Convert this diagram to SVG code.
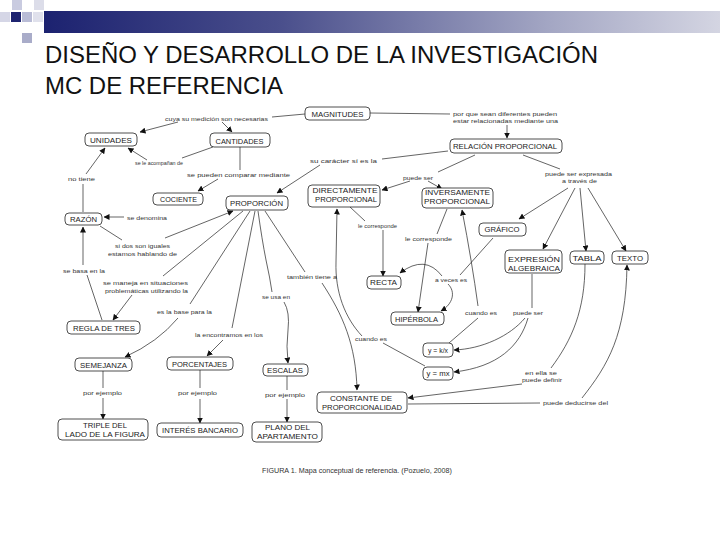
<svg xmlns="http://www.w3.org/2000/svg" width="720" height="540" viewBox="0 0 720 540">
<defs>
<linearGradient id="bar" x1="0" y1="0" x2="1" y2="0">
<stop offset="0" stop-color="#1c2270"/>
<stop offset="0.35" stop-color="#4a4f8c"/>
<stop offset="0.75" stop-color="#a4a7c4"/>
<stop offset="1" stop-color="#d4d5e2"/>
</linearGradient>
<marker id="ah" markerUnits="userSpaceOnUse" markerWidth="6" markerHeight="6" refX="5.5" refY="3" orient="auto">
<path d="M0,0 L6,3 L0,6 z" fill="#111"/>
</marker>
<style>
.n rect{fill:#fff;stroke:#222;stroke-width:0.8}
.n text{font-family:"Liberation Sans",Arial,sans-serif;font-size:7px;fill:#222;text-anchor:middle}
.lb text{font-family:"Liberation Sans",Arial,sans-serif;font-size:6.2px;fill:#333}
.c path{fill:none;stroke:#222;stroke-width:0.7}
.c .a{marker-end:url(#ah)}
.title{font-family:"Liberation Sans",Arial,sans-serif;font-size:23.5px;fill:#111}
</style>
</defs>
<rect width="720" height="540" fill="#fff"/>
<g id="decor">
<rect x="12" y="0" width="10" height="10" fill="#c9cbe0"/>
<rect x="34" y="0" width="10" height="10" fill="#dcdde9"/>
<rect x="0" y="12" width="10" height="10" fill="#d5d6e6"/>
<rect x="11" y="12" width="10" height="10" fill="#1e2470"/>
<rect x="22" y="12" width="10" height="10" fill="#b9bcd6"/>
<rect x="33" y="12" width="10" height="10" fill="#e0e1ec"/>
<rect x="22" y="33" width="10" height="10" fill="#a9acc9"/>
<rect x="44" y="11" width="676" height="22" fill="url(#bar)"/>
</g>
<text class="title" x="45" y="63" textLength="553" lengthAdjust="spacingAndGlyphs">DISEÑO Y DESARROLLO DE LA INVESTIGACIÓN</text>
<text class="title" x="45" y="94" textLength="238" lengthAdjust="spacingAndGlyphs">MC DE REFERENCIA</text>

<g id="connectors" class="c">
<path d="M272,117 L305,114"/>
<path class="a" d="M178,122 L140,132"/>
<path class="a" d="M222,122 L232,132"/>
<path d="M370,113 L450,114"/>
<path class="a" d="M507,125 L507,138"/>
<path d="M448,151 L382,159"/>
<path class="a" d="M320,165 L277,193"/>
<path d="M213,147 L182,158"/>
<path class="a" d="M147,160 L128,148"/>
<path d="M240,147 L240,170"/>
<path class="a" d="M218,179 L198,191"/>
<path d="M83,212 L83,184"/>
<path class="a" d="M86,174 L105,148"/>
<path class="a" d="M124,217 L104,217"/>
<path d="M100,226 L122,240"/>
<path class="a" d="M165,238 L233,211"/>
<path class="a" d="M83,265 L83,227"/>
<path d="M87,275 L102,320"/>
<path d="M243,211 L163,276"/>
<path class="a" d="M132,295 L113,320"/>
<path d="M250,211 L190,304"/>
<path class="a" d="M178,318 Q158,342 125,357"/>
<path d="M255,211 L232,328"/>
<path class="a" d="M223,340 L207,356"/>
<path d="M258,211 Q262,240 266,260 Q270,278 272,292"/>
<path class="a" d="M284,302 Q290,312 288,330 Q286,346 288,363"/>
<path d="M265,211 L305,272"/>
<path class="a" d="M322,283 C343,315 356,345 357,390"/>
<path class="a" d="M362,336 C345,318 335,292 336,262 L337,209"/>
<path d="M383,343 L425,366"/>
<path d="M475,155 L438,172"/>
<path class="a" d="M410,181 L382,190"/>
<path class="a" d="M428,181 L442,189"/>
<path d="M350,207 L365,221"/>
<path class="a" d="M383,230 L383,276"/>
<path d="M447,209 L437,234"/>
<path class="a" d="M428,243 L418,312"/>
<path class="a" d="M478,306 Q472,262 462,210"/>
<path d="M478,318 L449,343"/>
<path d="M493,238 L460,275"/>
<path class="a" d="M442,276 Q425,254 400,273"/>
<path class="a" d="M448,284 C456,292 453,304 441,311"/>
<path class="a" d="M568,188 L519,219"/>
<path class="a" d="M575,188 L543,249"/>
<path class="a" d="M580,188 L586,251"/>
<path class="a" d="M588,188 L626,251"/>
<path d="M523,155 L560,169"/>
<path d="M532,274 L532,308"/>
<path class="a" d="M525,318 C510,336 482,349 454,350"/>
<path class="a" d="M528,318 C520,346 498,367 454,372"/>
<path d="M585,264 C585,310 572,340 551,368"/>
<path class="a" d="M522,384 L408,398"/>
<path d="M408,404 L540,403"/>
<path class="a" d="M582,398 C608,365 626,335 627,265"/>
<path d="M103,371 L103,388"/>
<path class="a" d="M103,398 L103,419"/>
<path d="M200,370 L200,388"/>
<path class="a" d="M200,399 L200,423"/>
<path d="M287,376 L287,390"/>
<path class="a" d="M287,399 L287,422"/>
</g>

<g id="n-magnitudes" class="n"><rect x="305" y="107" width="65" height="13" rx="4"/><text x="337.5" y="116.5" textLength="52" lengthAdjust="spacingAndGlyphs">MAGNITUDES</text></g>
<g id="n-relacion" class="n"><rect x="450" y="139" width="112" height="14" rx="4"/><text x="505" y="149" textLength="104" lengthAdjust="spacingAndGlyphs">RELACIÓN PROPORCIONAL</text></g>
<g id="n-unidades" class="n"><rect x="85" y="133" width="52" height="13" rx="4"/><text x="111" y="142.5" textLength="42" lengthAdjust="spacingAndGlyphs">UNIDADES</text></g>
<g id="n-cantidades" class="n"><rect x="210" y="133" width="60" height="14" rx="4"/><text x="239.5" y="143.5" textLength="48" lengthAdjust="spacingAndGlyphs">CANTIDADES</text></g>
<g id="n-cociente" class="n"><rect x="153" y="193" width="50" height="12" rx="4"/><text x="178.5" y="202" textLength="37" lengthAdjust="spacingAndGlyphs">COCIENTE</text></g>
<g id="n-proporcion" class="n"><rect x="226" y="196" width="62" height="14" rx="4"/><text x="256.5" y="206" textLength="53" lengthAdjust="spacingAndGlyphs">PROPORCIÓN</text></g>
<g id="n-razon" class="n"><rect x="65" y="213" width="37" height="12" rx="4"/><text x="83.5" y="222" textLength="27" lengthAdjust="spacingAndGlyphs">RAZÓN</text></g>
<g id="n-directamente" class="n"><rect x="308" y="185" width="72" height="22" rx="4"/><text x="345" y="192.5" textLength="65" lengthAdjust="spacingAndGlyphs">DIRECTAMENTE</text><text x="346" y="201.5" textLength="62" lengthAdjust="spacingAndGlyphs">PROPORCIONAL</text></g>
<g id="n-inversamente" class="n"><rect x="422" y="188" width="71" height="20" rx="4"/><text x="457.5" y="195" textLength="65" lengthAdjust="spacingAndGlyphs">INVERSAMENTE</text><text x="457" y="204" textLength="66" lengthAdjust="spacingAndGlyphs">PROPORCIONAL</text></g>
<g id="n-grafico" class="n"><rect x="479" y="223" width="47" height="13" rx="4"/><text x="502" y="232.3" textLength="35" lengthAdjust="spacingAndGlyphs">GRÁFICO</text></g>
<g id="n-expresion" class="n"><rect x="505" y="250" width="57" height="23" rx="4"/><text x="534" y="261.5" textLength="52" lengthAdjust="spacingAndGlyphs">EXPRESIÓN</text><text x="534" y="270.5" textLength="52" lengthAdjust="spacingAndGlyphs">ALGEBRAICA</text></g>
<g id="n-tabla" class="n"><rect x="570" y="251" width="34" height="13" rx="4"/><text x="587" y="260.5" textLength="29" lengthAdjust="spacingAndGlyphs">TABLA</text></g>
<g id="n-texto" class="n"><rect x="612" y="251" width="36" height="13" rx="4"/><text x="630" y="260.5" textLength="26" lengthAdjust="spacingAndGlyphs">TEXTO</text></g>
<g id="n-recta" class="n"><rect x="367" y="276" width="34" height="13" rx="4"/><text x="383.5" y="285.3" textLength="27" lengthAdjust="spacingAndGlyphs">RECTA</text></g>
<g id="n-hiperbola" class="n"><rect x="391" y="312" width="53" height="13" rx="4"/><text x="416.5" y="321.5" textLength="43" lengthAdjust="spacingAndGlyphs">HIPÉRBOLA</text></g>
<g id="n-regla" class="n"><rect x="67" y="321" width="73" height="13" rx="4"/><text x="104" y="330.5" textLength="62" lengthAdjust="spacingAndGlyphs">REGLA DE TRES</text></g>
<g id="n-semejanza" class="n"><rect x="75" y="358" width="57" height="13" rx="4"/><text x="103.5" y="367.5" textLength="47" lengthAdjust="spacingAndGlyphs">SEMEJANZA</text></g>
<g id="n-porcentajes" class="n"><rect x="167" y="357" width="66" height="13" rx="4"/><text x="199.5" y="366.5" textLength="55" lengthAdjust="spacingAndGlyphs">PORCENTAJES</text></g>
<g id="n-escalas" class="n"><rect x="263" y="364" width="45" height="12" rx="4"/><text x="285" y="372.5" textLength="36" lengthAdjust="spacingAndGlyphs">ESCALAS</text></g>
<g id="n-ykx" class="n"><rect x="423" y="343" width="30" height="14" rx="4"/><text x="438" y="353" textLength="20" lengthAdjust="spacingAndGlyphs">y = k/x</text></g>
<g id="n-ymx" class="n"><rect x="423" y="367" width="30" height="13" rx="4"/><text x="438" y="376" textLength="23" lengthAdjust="spacingAndGlyphs">y = mx</text></g>
<g id="n-constante" class="n"><rect x="317" y="392" width="90" height="21" rx="4"/><text x="361" y="400.5" textLength="62" lengthAdjust="spacingAndGlyphs">CONSTANTE DE</text><text x="362" y="409.5" textLength="80" lengthAdjust="spacingAndGlyphs">PROPORCIONALIDAD</text></g>
<g id="n-triple" class="n"><rect x="58" y="419" width="90" height="21" rx="4"/><text x="105" y="427.5" textLength="44" lengthAdjust="spacingAndGlyphs">TRIPLE DEL</text><text x="105" y="437" textLength="80" lengthAdjust="spacingAndGlyphs">LADO DE LA FIGURA</text></g>
<g id="n-interes" class="n"><rect x="157" y="423" width="86" height="14" rx="4"/><text x="200" y="433" textLength="76" lengthAdjust="spacingAndGlyphs">INTERÉS BANCARIO</text></g>
<g id="n-plano" class="n"><rect x="252" y="422" width="70" height="20" rx="4"/><text x="287.5" y="429.5" textLength="45" lengthAdjust="spacingAndGlyphs">PLANO DEL</text><text x="287.5" y="439" textLength="61" lengthAdjust="spacingAndGlyphs">APARTAMENTO</text></g>

<g id="labels" class="lb">
<text x="165" y="121" textLength="103" lengthAdjust="spacingAndGlyphs">cuya su medición son necesarias</text>
<text x="453" y="116" textLength="104" lengthAdjust="spacingAndGlyphs">por que sean diferentes pueden</text>
<text x="453" y="123" textLength="105" lengthAdjust="spacingAndGlyphs">estar relacionadas mediante una</text>
<text x="310" y="163" textLength="67" lengthAdjust="spacingAndGlyphs">su carácter sí es la</text>
<text x="403" y="180" textLength="30" lengthAdjust="spacingAndGlyphs">puede ser</text>
<text x="135" y="165" textLength="48" lengthAdjust="spacingAndGlyphs">se le acompañan de</text>
<text x="68" y="181" textLength="27" lengthAdjust="spacingAndGlyphs">no tiene</text>
<text x="187" y="177" textLength="103" lengthAdjust="spacingAndGlyphs">se pueden comparar mediante</text>
<text x="127" y="220" textLength="40" lengthAdjust="spacingAndGlyphs">se denomina</text>
<text x="115" y="248" textLength="55" lengthAdjust="spacingAndGlyphs">si dos son iguales</text>
<text x="108" y="255.5" textLength="69" lengthAdjust="spacingAndGlyphs">estamos hablando de</text>
<text x="63" y="273" textLength="42" lengthAdjust="spacingAndGlyphs">se basa en la</text>
<text x="103" y="285" textLength="85" lengthAdjust="spacingAndGlyphs">se maneja en situaciones</text>
<text x="105" y="293" textLength="83" lengthAdjust="spacingAndGlyphs">problemáticas utilizando la</text>
<text x="157" y="314" textLength="55" lengthAdjust="spacingAndGlyphs">es la base para la</text>
<text x="195" y="337" textLength="68" lengthAdjust="spacingAndGlyphs">la encontramos en los</text>
<text x="262" y="299" textLength="28" lengthAdjust="spacingAndGlyphs">se usa en</text>
<text x="287" y="279" textLength="50" lengthAdjust="spacingAndGlyphs">también tiene a</text>
<text x="358" y="228" textLength="39" lengthAdjust="spacingAndGlyphs">le corresponde</text>
<text x="405" y="241" textLength="47" lengthAdjust="spacingAndGlyphs">le corresponde</text>
<text x="435" y="282" textLength="32" lengthAdjust="spacingAndGlyphs">a veces es</text>
<text x="465" y="315" textLength="32" lengthAdjust="spacingAndGlyphs">cuando es</text>
<text x="513" y="315" textLength="30" lengthAdjust="spacingAndGlyphs">puede ser</text>
<text x="355" y="341" textLength="32" lengthAdjust="spacingAndGlyphs">cuando es</text>
<text x="545" y="176" textLength="67" lengthAdjust="spacingAndGlyphs">puede ser expresada</text>
<text x="562" y="183" textLength="35" lengthAdjust="spacingAndGlyphs">a través de</text>
<text x="525" y="374.5" textLength="32" lengthAdjust="spacingAndGlyphs">en ella se</text>
<text x="522" y="381.5" textLength="40" lengthAdjust="spacingAndGlyphs">puede definir</text>
<text x="543" y="405" textLength="65" lengthAdjust="spacingAndGlyphs">puede deducirse del</text>
<text x="83" y="395" textLength="39" lengthAdjust="spacingAndGlyphs">por ejemplo</text>
<text x="178" y="395" textLength="39" lengthAdjust="spacingAndGlyphs">por ejemplo</text>
<text x="265" y="396.5" textLength="40" lengthAdjust="spacingAndGlyphs">por ejemplo</text>
</g>
<text x="262" y="472.5" font-family="Liberation Sans, Arial, sans-serif" font-size="7" fill="#333" textLength="190" lengthAdjust="spacingAndGlyphs">FIGURA 1. Mapa conceptual de referencia. (Pozuelo, 2008)</text>
</svg>
